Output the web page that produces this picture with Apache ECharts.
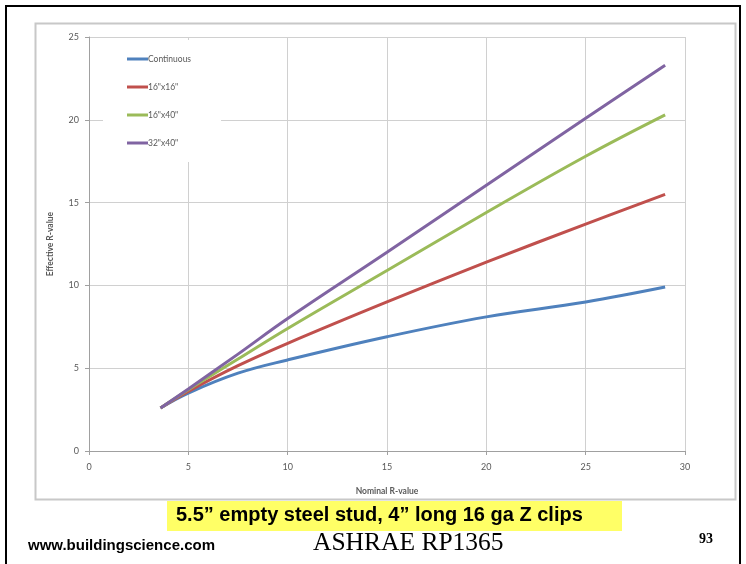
<!DOCTYPE html>
<html><head><meta charset="utf-8">
<script src="https://cdn.jsdelivr.net/npm/echarts@6/dist/echarts.min.js"></script>
<style>html,body{margin:0;padding:0;background:#fff;}#c{width:746px;height:564px;}</style>
</head><body><div id="c"></div>
<script>
const nominalR = [3.6, 5, 7.5, 10, 15, 20, 25, 29];
const continuous = [2.6, 3.5, 4.7, 5.5, 6.9, 8.1, 9.0, 9.9];
const clip16x16 = [2.6, 3.6, 5.15, 6.5, 9.0, 11.4, 13.7, 15.5];
const clip16x40 = [2.6, 3.7, 5.55, 7.4, 10.9, 14.4, 17.8, 20.3];
const clip32x40 = [2.6, 3.75, 5.85, 8.0, 12.0, 16.05, 20.1, 23.3];
const seriesNames = ['Continuous', '16"x16"', '16"x40"', '32"x40"'];
const seriesColors = ['#4F81BD', '#C0504D', '#9BBB59', '#8064A2'];
const xTicks = [0, 30, 5];
const yTicks = [0, 25, 5];

const pairs = v => nominalR.map((x, i) => [x, v[i]]);
const all = [continuous, clip16x16, clip16x40, clip32x40];
const chart = echarts.init(document.getElementById('c'), null, {renderer: 'canvas'});
const labelFont = 'Lato, "Open Sans", sans-serif';
chart.setOption({
  animation: false,
  backgroundColor: '#fff',
  graphic: [
    {type: 'rect', shape: {x: 6, y: 6, width: 734, height: 580}, style: {fill: 'none', stroke: '#000', lineWidth: 2}, z: -1},
    {type: 'rect', shape: {x: 35.5, y: 23.5, width: 700, height: 476}, style: {fill: 'none', stroke: '#c8c8c8', lineWidth: 2}, z: -1},
    {type: 'rect', shape: {x: 167, y: 501, width: 455, height: 30}, style: {fill: '#ffff66'}, z: 1},
    {type: 'text', left: 176, top: 505, style: {text: '5.5\u201d empty steel stud, 4\u201d long 16 ga Z clips', fill: '#000', font: 'bold 20px "Liberation Sans", Arial, sans-serif'}, z: 2},
    {type: 'text', left: 28, top: 538, style: {text: 'www.buildingscience.com', fill: '#000', font: 'bold 15px "Liberation Sans", Arial, sans-serif'}, z: 2},
    {type: 'text', left: 313, top: 530, style: {text: 'ASHRAE RP1365', fill: '#000', font: '25.5px "Liberation Serif", "Times New Roman", serif'}, z: 2},
    {type: 'text', left: 699, top: 532, style: {text: '93', fill: '#000', font: 'bold 14px "Liberation Serif", "Times New Roman", serif'}, z: 2}
  ],
  grid: {left: 89, right: 61, top: 37, bottom: 113, containLabel: false},
  legend: {
    orient: 'vertical', left: 103, top: 40,
    padding: [12, 30, 12, 24],
    backgroundColor: '#fff',
    itemWidth: 21, itemHeight: 3, itemGap: 14,
    icon: 'rect',
    data: seriesNames,
    textStyle: {fontSize: 8.5, color: '#595959', fontFamily: labelFont, lineHeight: 14, padding: [0, 0, 0, -5]}
  },
  xAxis: {
    type: 'value', min: xTicks[0], max: xTicks[1], interval: xTicks[2],
    name: 'Nominal R-value', nameLocation: 'middle', nameGap: 36,
    nameTextStyle: {fontSize: 8.5, fontWeight: 'bold', color: '#595959', fontFamily: labelFont},
    axisLine: {show: true, lineStyle: {color: '#a0a0a0', width: 1}},
    axisTick: {show: true, length: 4, lineStyle: {color: '#a0a0a0'}},
    axisLabel: {fontSize: 9, color: '#595959', margin: 12, fontFamily: labelFont},
    splitLine: {show: true, lineStyle: {color: '#d0d0d0', width: 1}}
  },
  yAxis: {
    type: 'value', min: yTicks[0], max: yTicks[1], interval: yTicks[2],
    name: 'Effective R-value', nameLocation: 'middle', nameGap: 34,
    nameTextStyle: {fontSize: 8.5, fontWeight: 'bold', color: '#595959', fontFamily: labelFont},
    axisLine: {show: true, lineStyle: {color: '#a0a0a0', width: 1}},
    axisTick: {show: true, length: 4, lineStyle: {color: '#a0a0a0'}},
    axisLabel: {fontSize: 9, color: '#595959', margin: 10, fontFamily: labelFont},
    splitLine: {show: true, lineStyle: {color: '#d0d0d0', width: 1}}
  },
  series: all.map((v, i) => ({
    name: seriesNames[i], type: 'line', data: pairs(v),
    smooth: 0.4, showSymbol: false, symbol: 'none',
    lineStyle: {color: seriesColors[i], width: 3},
    itemStyle: {color: seriesColors[i]}
  }))
});
</script></body></html>
